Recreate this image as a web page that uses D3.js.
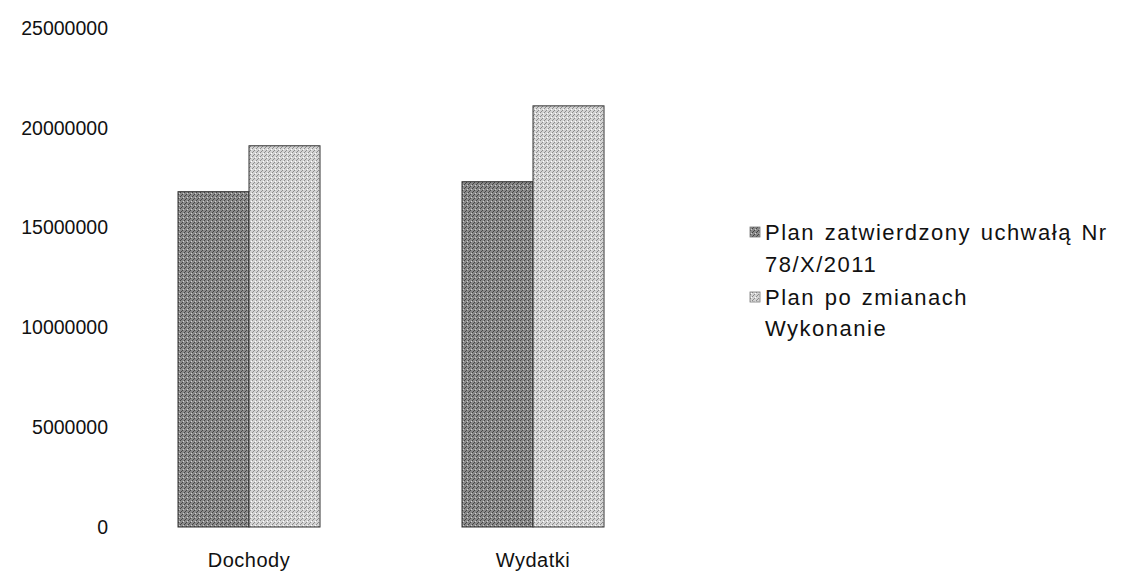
<!DOCTYPE html>
<html><head><meta charset="utf-8">
<script src="https://cdn.jsdelivr.net/npm/d3@7"></script>
<style>body{margin:0;background:#fff}svg{display:block}text{font-family:"Liberation Sans",Arial,sans-serif;fill:#111}</style>
</head><body>
<svg id="c" width="1143" height="576"></svg>
<script>
const categories = ["Dochody", "Wydatki"];
const seriesNames = ["Plan zatwierdzony uchwałą Nr 78/X/2011", "Plan po zmianach", "Wykonanie"];
const planZatwierdzony = [16800000, 17300000];
const planPoZmianach = [19100000, 21100000];
const wykonanie = [0, 0];
const yTicks = [0, 5000000, 10000000, 15000000, 20000000, 25000000];

const FS = "19.5px";
const svg = d3.select("#c");
const defs = svg.append("defs");
function mkPattern(id, base, dot, dot2) {
  const p = defs.append("pattern").attr("id", id).attr("width", 4).attr("height", 4).attr("patternUnits", "userSpaceOnUse");
  p.append("rect").attr("width", 4).attr("height", 4).attr("fill", base);
  p.append("rect").attr("x", 0).attr("y", 0).attr("width", 1).attr("height", 1).attr("fill", dot);
  p.append("rect").attr("x", 2).attr("y", 2).attr("width", 1).attr("height", 1).attr("fill", dot);
  p.append("rect").attr("x", 1).attr("y", 3).attr("width", 1).attr("height", 1).attr("fill", dot);
  p.append("rect").attr("x", 3).attr("y", 1).attr("width", 1).attr("height", 1).attr("fill", dot2);
}
mkPattern("pDark", "#8a8a8a", "#444", "#d0d0d0");
mkPattern("pLight", "#d4d4d4", "#8c8c8c", "#fff");

const y = d3.scaleLinear().domain([0, 25000000]).range([527, 28]);
const x0 = d3.scaleBand().domain(categories).range([107, 675]).paddingInner(0.5).paddingOuter(0.25);
const barSeries = seriesNames.slice(0, 2);
const x1 = d3.scaleBand().domain(barSeries).range([0, x0.bandwidth()]);

const yAxis = d3.axisLeft(y).tickValues(yTicks).tickSize(0).tickPadding(0).tickFormat(d3.format("d"));
const gy = svg.append("g").attr("transform", "translate(108,0)").call(yAxis);
gy.select(".domain").remove();
gy.selectAll("text").style("font-size", FS).style("font-family", '"Liberation Sans",Arial,sans-serif').attr("fill", "#111");

const xAxis = d3.axisBottom(x0).tickSize(0).tickPadding(0);
const gx = svg.append("g").attr("transform", "translate(0,553)").call(xAxis);
gx.select(".domain").remove();
gx.selectAll("text").style("font-size", "20px").style("font-family", '"Liberation Sans",Arial,sans-serif')
  .style("letter-spacing", "0.5px").attr("fill", "#111");

const series = [
  {name: seriesNames[0], values: planZatwierdzony, fill: "url(#pDark)"},
  {name: seriesNames[1], values: planPoZmianach, fill: "url(#pLight)"}
];
series.forEach(s => {
  svg.append("g").selectAll("rect").data(categories.filter((c, i) => s.values[i] > 0)).join("rect")
    .attr("x", c => x0(c) + x1(s.name))
    .attr("y", c => y(s.values[categories.indexOf(c)]))
    .attr("width", x1.bandwidth())
    .attr("height", c => y(0) - y(s.values[categories.indexOf(c)]))
    .attr("fill", s.fill)
    .attr("stroke", "#333").attr("stroke-width", 1);
});

const leg = svg.append("g");
const legendRows = [
  {lines: ["Plan zatwierdzony uchwałą Nr", "78/X/2011"], fill: "url(#pDark)", y: 240},
  {lines: ["Plan po zmianach"], fill: "url(#pLight)", y: 305},
  {lines: ["Wykonanie"], fill: null, y: 336}
];
legendRows.forEach(r => {
  if (r.fill) leg.append("rect").attr("x", 750).attr("y", r.y - 13).attr("width", 10).attr("height", 10)
    .attr("fill", r.fill).attr("stroke", "#777").attr("stroke-width", 0.8);
  r.lines.forEach((l, i) => leg.append("text")
    .attr("x", 765).attr("y", r.y + i * 32)
    .style("font-size", "22px").style("letter-spacing", "1.5px").style("word-spacing", "2px").text(l));
});
</script>
</body></html>
